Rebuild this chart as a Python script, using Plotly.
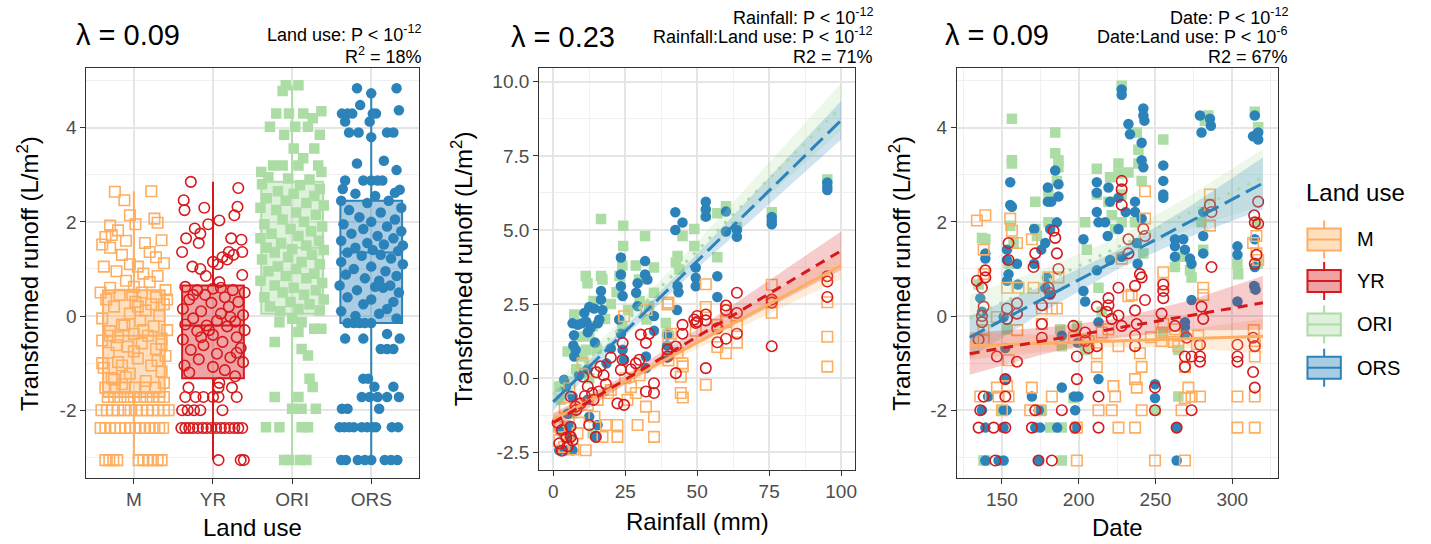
import plotly.graph_objects as go

W, H = 1431, 544

LAND_USES = ["M", "YR", "ORI", "ORS"]
COLORS = {"M": "#FDAE61", "YR": "#D7191C", "ORI": "#ABDDA4", "ORS": "#2B83BA"}
SYMBOLS = {"M": "square-open", "YR": "circle-open", "ORI": "square", "ORS": "circle"}
DASHES = {"M": "solid", "YR": "10px,7px", "ORI": "3px,8px", "ORS": "17px,7px"}

# ---------------- Panel 1: runoff by land use (boxplot + jittered points) -----------
box_q1 = [-1.72, -1.32, 0.05, -0.15]
box_median = [-0.42, -0.20, 1.45, 1.35]
box_q3 = [0.55, 0.65, 2.85, 2.45]
box_lower = [-3.06, -3.06, -3.06, -3.06]
box_upper = [2.65, 2.85, 4.90, 4.75]

# (jitter offset from the category, transformed runoff)
m_box_pts = [
    (-0.36, -3.06), (-0.31, -3.06), (-0.26, -3.06), (-0.21, -3.06), (0.06, -3.06), (0.12, -3.06),
    (0.18, -3.06), (0.24, -3.06), (0.30, -3.06), (0.35, -3.06),
    (-0.42, -2.38), (-0.36, -2.38), (-0.30, -2.38), (-0.24, -2.38), (-0.17, -2.38), (-0.11, -2.38),
    (-0.05, -2.38), (0.02, -2.38), (0.08, -2.38), (0.14, -2.38), (0.20, -2.38), (0.26, -2.38),
    (0.32, -2.38), (0.37, -2.38),
    (-0.41, -2.0), (-0.34, -2.0), (-0.27, -2.0), (-0.20, -2.0), (-0.12, -2.0), (-0.04, -2.0),
    (0.03, -2.0), (0.10, -2.0), (0.17, -2.0), (0.24, -2.0), (0.31, -2.0), (0.38, -2.0), (0.44, -2.0),
    (-0.33, -1.72), (-0.25, -1.72), (-0.17, -1.72), (-0.08, -1.72), (0.0, -1.72), (0.08, -1.72),
    (0.16, -1.72), (0.24, -1.72), (0.32, -1.72), (0.38, -1.72),
    (-0.36, -1.52), (-0.24, -1.52), (-0.12, -1.52), (0.02, -1.52), (0.14, -1.52), (0.27, -1.52),
    (-0.24, 2.64), (0.22, 2.65), (-0.12, 2.46), (-0.05, 2.14), (0.26, 2.07), (0.30, 1.98),
    (-0.30, 1.92), (-0.20, 1.82), (0.02, 1.95), (-0.36, 1.68), (-0.28, 1.72), (-0.10, 1.60),
    (0.35, 1.61), (0.14, 1.55), (-0.40, 1.52), (0.20, 1.36), (-0.30, 1.45), (-0.15, 1.30),
    (0.28, 1.25), (-0.05, 1.10), (0.05, 1.05), (-0.38, 1.05), (0.38, 1.12), (-0.22, 0.95),
    (0.12, 0.90), (0.30, 0.85), (-0.10, 0.75), (0.20, 0.72), (0.0, 0.62), (-0.30, 0.60),
    (0.40, 0.55), (-0.42, 0.50), (0.10, 0.50), (-0.18, 0.45), (0.28, 0.40), (-0.35, 0.35),
    (0.02, 0.30), (0.38, 0.25), (-0.25, 0.20), (0.15, 0.12), (-0.05, 0.05), (0.32, 0.0),
    (-0.40, -0.05), (0.08, -0.10), (-0.15, -0.18), (0.25, -0.22), (0.42, -0.30), (-0.30, -0.32),
    (0.0, -0.38), (0.18, -0.42), (-0.20, -0.45), (0.35, -0.48), (-0.40, -0.52), (0.10, -0.58),
    (-0.08, -0.65), (0.28, -0.70), (-0.32, -0.78), (0.40, -0.85), (0.05, -0.90), (-0.20, -0.98),
    (0.22, -1.05), (-0.38, -1.10), (0.35, -1.18), (-0.05, -1.22), (-0.28, -1.32), (0.15, -1.38),
    (0.38, -1.42), (-0.15, -1.45), (-0.25, -1.35), (0.0, -0.75), (-0.12, -0.20), (0.22, 0.25),
    (-0.02, 0.45), (0.35, -0.60), (-0.40, -1.0), (0.42, 0.35), (-0.15, -1.05),
    (-0.30, -0.42), (0.12, -0.30), (-0.22, -0.62), (0.30, -0.95), (-0.10, -1.30), (0.05, 0.20),
]
yr_box_pts = [
    (0.07, -3.06), (0.35, -3.06), (0.39, -3.06),
    (-0.40, -2.38), (-0.35, -2.38), (-0.30, -2.38), (-0.25, -2.38), (-0.19, -2.38), (-0.13, -2.38),
    (-0.08, -2.38), (-0.02, -2.38), (0.04, -2.38), (0.10, -2.38), (0.15, -2.38), (0.21, -2.38),
    (0.27, -2.38), (0.32, -2.38), (0.37, -2.38),
    (-0.39, -2.0), (-0.32, -2.0), (-0.24, -2.0), (-0.16, -2.0), (0.12, -2.0),
    (-0.35, -1.72), (-0.22, -1.72), (-0.12, -1.72), (0.0, -1.72), (0.07, -1.72), (0.30, -1.72),
    (-0.31, -1.52), (0.07, -1.52), (0.24, -1.52), (0.08, -1.42),
    (-0.28, 2.85), (0.32, 2.72), (-0.37, 2.46), (0.31, 2.32), (-0.36, 2.25), (-0.11, 2.30),
    (0.27, 2.14), (0.08, 2.03), (-0.06, 1.95), (-0.23, 1.86), (-0.16, 1.75), (0.23, 1.65),
    (0.36, 1.62), (-0.34, 1.65), (-0.18, 1.55), (-0.39, 1.36), (0.20, 1.36), (0.26, 1.30),
    (0.37, 1.36), (0.12, 1.25), (0.18, 1.20), (0.0, 1.15), (0.06, 1.10), (-0.26, 1.05),
    (-0.16, 1.0), (0.37, 0.87), (-0.09, 0.85), (0.08, 0.72),
    (-0.35, 0.62), (-0.20, 0.55), (0.0, 0.58), (0.25, 0.55), (0.40, 0.50), (-0.10, 0.45),
    (0.15, 0.40), (-0.30, 0.35), (0.32, 0.30), (-0.02, 0.28), (0.20, 0.20), (-0.38, 0.15),
    (-0.15, 0.10), (0.10, 0.05), (0.38, 0.02), (-0.25, -0.05), (0.05, -0.10), (0.28, -0.12),
    (-0.35, -0.18), (-0.08, -0.20), (0.18, -0.22), (0.40, -0.30), (-0.20, -0.32), (0.0, -0.40),
    (0.30, -0.45), (-0.38, -0.50), (0.12, -0.55), (-0.12, -0.62), (0.35, -0.68), (-0.28, -0.72),
    (0.05, -0.80), (0.22, -0.88), (-0.18, -0.92), (0.38, -0.98), (-0.36, -1.05), (0.0, -1.08),
    (0.15, -1.15), (-0.30, -1.20), (0.28, -1.28),
    (-0.25, 0.45), (0.22, -0.02), (-0.05, -0.30), (0.30, -0.78), (-0.15, -0.45), (0.10, 0.60),
]
ori_box_pts = [
    (-0.08, 4.90), (0.08, 4.90), (-0.12, 4.78), (-0.20, 4.30), (-0.04, 4.30), (0.14, 4.30),
    (0.37, 4.35), (0.26, 4.20), (-0.28, 4.02), (0.04, 4.02), (0.20, 4.02), (-0.10, 3.85),
    (0.35, 3.85), (0.02, 3.56), (0.28, 3.56), (0.14, 3.35), (-0.24, 3.20), (-0.12, 3.20),
    (0.08, 3.20), (0.33, 3.20), (-0.39, 3.06), (0.37, 3.06),
    (-0.30, 2.95), (-0.05, 2.92), (0.22, 2.90), (-0.38, 2.80), (0.10, 2.78), (0.35, 2.70),
    (-0.18, 2.65), (0.02, 2.60), (0.28, 2.55), (-0.32, 2.50), (-0.08, 2.45), (0.18, 2.40),
    (0.40, 2.35), (-0.40, 2.30), (-0.20, 2.25), (0.05, 2.20), (0.30, 2.15), (-0.12, 2.05),
    (0.15, 2.0), (-0.35, 1.95), (0.38, 1.90), (-0.02, 1.85), (0.24, 1.80), (-0.26, 1.75),
    (0.08, 1.70), (-0.40, 1.65), (0.34, 1.60), (-0.14, 1.55), (0.18, 1.50), (-0.32, 1.45),
    (0.0, 1.42), (0.40, 1.40), (-0.22, 1.35), (0.25, 1.30), (-0.05, 1.25), (-0.38, 1.20),
    (0.12, 1.15), (0.35, 1.10), (-0.18, 1.05), (0.05, 1.0), (-0.30, 0.95), (0.28, 0.90),
    (-0.08, 0.85), (0.18, 0.80), (-0.40, 0.75), (0.38, 0.70), (-0.22, 0.65), (0.02, 0.60),
    (0.30, 0.55), (-0.12, 0.50), (0.15, 0.45), (-0.35, 0.40), (0.40, 0.35), (-0.02, 0.30),
    (0.22, 0.25), (-0.28, 0.20), (0.08, 0.15), (-0.15, 0.10), (0.35, 0.12),
    (0.0, -0.06), (-0.16, -0.13), (0.12, -0.13), (0.28, -0.27), (0.37, -0.27), (0.08, -0.34),
    (-0.22, -0.55), (0.12, -0.70), (0.20, -0.84), (0.22, -1.33), (0.26, -1.51), (-0.22, -1.72),
    (0.08, -1.72), (0.0, -1.97), (0.12, -1.97), (0.30, -1.97), (-0.33, -2.36), (-0.16, -2.36),
    (0.12, -2.36), (0.20, -2.36), (-0.10, -3.06), (-0.04, -3.06), (0.10, -3.06), (0.18, -3.06),
]
ors_box_pts = [
    (-0.18, 4.84), (0.32, 4.84), (0.0, 4.73), (-0.14, 4.48), (0.35, 4.37), (-0.37, 4.30),
    (-0.30, 4.30), (-0.24, 4.30), (0.02, 4.30), (0.06, 4.30), (-0.33, 4.13), (-0.02, 4.13),
    (-0.28, 3.90), (-0.16, 3.90), (0.20, 3.90), (0.28, 3.90), (0.0, 3.80), (-0.18, 3.24),
    (0.16, 3.30), (0.32, 3.10), (-0.33, 2.88), (-0.10, 2.88), (0.0, 2.88), (0.08, 2.88), (0.14, 2.88),
    (-0.36, 2.70), (0.36, 2.68), (0.30, 2.62), (-0.20, 2.60), (0.05, 2.55), (-0.38, 2.45),
    (0.22, 2.45), (-0.05, 2.40), (0.38, 2.30), (-0.28, 2.25), (0.12, 2.20), (-0.15, 2.10),
    (0.30, 2.05), (0.0, 2.0), (-0.35, 1.95), (0.20, 1.90), (-0.10, 1.85), (0.38, 1.80),
    (-0.25, 1.75), (0.08, 1.70), (0.28, 1.65), (-0.38, 1.60), (-0.05, 1.55), (0.16, 1.52),
    (0.40, 1.50), (-0.20, 1.45), (0.02, 1.40), (0.34, 1.38), (-0.30, 1.35), (0.12, 1.30),
    (-0.12, 1.28), (0.25, 1.22), (-0.38, 1.15), (0.40, 1.10), (0.0, 1.05), (-0.22, 1.0),
    (0.18, 0.95), (-0.32, 0.88), (0.32, 0.85), (-0.08, 0.80), (0.10, 0.75), (-0.40, 0.65),
    (0.24, 0.65), (0.05, 0.62), (0.15, 0.60), (-0.18, 0.55), (0.35, 0.50), (-0.30, 0.40),
    (0.0, 0.35), (0.28, 0.30), (-0.10, 0.25), (0.20, 0.15), (-0.38, 0.10), (0.10, 0.05),
    (-0.20, 0.0), (0.32, -0.05),
    (-0.30, -0.15), (-0.22, -0.15), (-0.15, -0.15), (-0.08, -0.15), (0.0, -0.15), (-0.33, -0.48),
    (-0.10, -0.48), (0.36, -0.48), (0.20, -0.38), (0.12, -0.70), (0.20, -0.70), (0.28, -0.70),
    (-0.10, -1.33), (-0.04, -1.33), (0.04, -1.50), (0.28, -1.50), (-0.12, -1.72), (-0.02, -1.72),
    (0.08, -1.72), (0.20, -1.72), (0.35, -1.72), (-0.37, -1.97), (-0.30, -1.97), (0.10, -1.97),
    (-0.40, -2.36), (-0.34, -2.36), (-0.28, -2.36), (-0.22, -2.36), (-0.12, -2.36), (-0.05, -2.36),
    (0.02, -2.36), (0.06, -2.36), (0.26, -2.36), (0.34, -2.36),
    (-0.38, -3.06), (-0.32, -3.06), (-0.17, -3.06), (-0.08, -3.06), (0.0, -3.06), (0.17, -3.06),
    (0.25, -3.06), (0.33, -3.06),
]

# ---------------- Panel 2: rainfall (mm) vs transformed runoff (lambda = 0.23) ----------
m_rain_pts = [
    (39.7, 2.49), (32.4, 2.3), (24.6, 2.09), (44.3, -0.5), (35, -1.3), (35, -1.98), (29.3, -1.58),
    (22.3, -1.58), (22.3, -1.98), (18.3, -1.58), (17.1, -1.98), (11.3, -2.43), (5.6, -0.34),
    (10.2, 0.5), (44.9, 0.5), (44.3, 0.05), (25.8, -0.73), (28.7, -0.5), (32.2, -0.96), (2.1, -1.64),
    (2.1, -2.09), (3.8, -2.32), (8.4, -1.86), (15.4, -0.73), (14.3, -1.3), (20, -0.4), (40.9, 1.5),
    (43.2, 0.85), (95.2, 2.56), (95.2, 1.4), (95.2, 0.39), (75.9, 3.15), (75.9, 2.56), (75.9, 2.21),
    (63.8, 1.76), (63.8, 1.2), (60, 0.84), (60, 1.9), (60, 2.3), (57, 1.05), (57, 1.8), (53, 3.17),
    (53, 2.4), (53, -0.22), (49.5, 1.6), (45, 0.4), (45, -0.65), (40, 2.55), (40, 1.4), (40, 0.6),
    (7, -2.4), (5, -2.0), (9, -1.5), (12, -0.9), (4, -1.0), (30, 0.1), (27, -0.3), (19, -0.5),
    (14, 0.2), (25, 0.0),
]
yr_rain_pts = [
    (49, 1.98), (49.5, 1.86), (44.9, 1.8), (44.9, 1.5), (42.6, 1.07), (42.6, 0.17), (39.7, 0.96),
    (39.7, 0.73), (33.3, 1.5), (30.4, 1.47), (32.2, 1.19), (29.9, 0.62), (28.7, 0.5), (35, -0.17),
    (35, -0.5), (32.2, -0.45), (24.1, 1.19), (24.1, 0.62), (23.5, 0.28), (22.3, -0.85), (24.6, -0.9),
    (16.4, 0.4), (17.5, 0.1), (18.3, -0.2), (15.8, -0.45), (10.4, 0.05), (12, -0.28), (13.5, -0.5),
    (15, 0.2), (14, -0.73), (11, -0.6), (6.1, -0.62), (7.8, -0.96), (9.5, -0.85), (8, -1.07),
    (1.5, -1.5), (3, -1.75), (4.5, -2.0), (6, -1.64), (6.7, -2.1), (12.5, -1.58), (14.8, -1.98),
    (6.1, -1.98), (2.1, -2.2), (95.2, 3.44), (95.2, 3.26), (95.2, 2.74), (75.9, 2.65), (75.9, 2.55),
    (75.9, 1.08), (63.8, 2.88), (63.8, 2.2), (63.8, 1.5), (60, 2.45), (60, 2.3), (60, 1.33),
    (57, 1.68), (57, 1.21), (53, 2.15), (53, 1.95), (53, 0.34), (50, 2.1), (50, 1.9), (20, 0.7),
    (27, 0.3), (3, -2.45), (5, -2.3),
]
ori_rain_pts = [
    (16.6, 5.37), (24.3, 5.14), (24.3, 4.46), (24, 3.8), (23, 3.45), (31.9, 4.8), (28.7, 3.8),
    (29.8, 3.33), (35, 3.73), (35, 2.88), (11.3, 3.45), (11.9, 3.2), (16.6, 3.45), (17.1, 3.33),
    (7.3, 2.15), (43.2, 4.12), (43.8, 3.67), (44.9, 4.8), (49, 5.03), (49, 4.46), (39.1, 1.86),
    (39.7, 1.5), (32.4, 1.98), (33.3, 2.43), (24, 1.75), (13.7, 1.75), (12.5, 1.41), (11.3, 0.96),
    (10.2, 0.73), (2.7, -0.73), (2.1, -0.28), (12.5, 0.0), (13.7, -1.86), (6.7, -1.19), (53, 5.5),
    (57, 5.56), (57, 4.08), (60, 5.8), (63.8, 5.1), (75.9, 5.6), (95.2, 6.7), (42.6, 3.9), (20, 2.5),
    (22, 2.9), (18, 2.0), (9, 1.4), (15, 1.0), (26, 2.3), (30, 2.6), (14, 2.6), (5, 0.9), (4, -1.6),
    (8, 0.3),
]
ors_rain_pts = [
    (42.4, 5.6), (42.4, 5.0), (44.9, 5.25), (43.2, 3.1), (43.5, 2.9), (43, 2.3), (31.9, 3.95),
    (31.9, 3.5), (32.7, 3.33), (29.3, 3.2), (28.8, 2.88), (29.3, 2.43), (23.5, 4.07), (23.5, 3.5),
    (23.5, 3.1), (24.1, 2.77), (22.9, 1.98), (23.5, 1.5), (24.1, 0.96), (24.6, 0.62), (16.6, 2.94),
    (16.6, 2.65), (17.1, 2.3), (16, 1.98), (10.8, 2.2), (12.5, 2.4), (14.2, 2.35), (15.5, 1.85),
    (13, 1.7), (11.5, 1.9), (12, 1.55), (14.5, 1.2), (6.7, 1.85), (8.5, 1.8), (10, 1.85), (7.2, 1.45),
    (7, 1.1), (7.3, 0.73), (7.8, 0.96), (3.8, -0.05), (4.4, -0.28), (6.7, -0.62), (11.9, -0.73),
    (12.5, -1.3), (6.1, -1.98), (6.1, -1.64), (2.1, -2.43), (4.4, -2.43), (6.7, -2.43), (15.4, -1.58),
    (14.8, -1.98), (32.2, 0.73), (32.2, 0.34), (49.5, 3.39), (49.5, 3.1), (49.5, 3.73), (53, 5.95),
    (53, 5.7), (53, 5.45), (57, 3.44), (57, 2.74), (60, 5.62), (60, 4.95), (63.8, 5.0), (63.8, 4.77),
    (75.9, 5.44), (75.9, 5.3), (75.9, 5.19), (95.2, 6.6), (95.2, 6.45), (95.2, 6.35), (39.6, 1.46),
    (39.6, 0.7), (39.6, 1.1), (35, 2.1), (35, 1.6), (20, 1.0), (18.5, 0.5), (12, 0.3), (9, 0.1),
    (5, -1.2), (2.5, -1.8),
]

# fitted lines and confidence half-widths at these rainfall values
rain_grid = [0, 25, 50, 75, 100]
rain_fit = {
    "M": [-1.40, -0.10, 1.20, 2.50, 3.80],
    "YR": [-1.50, -0.05, 1.40, 2.85, 4.30],
    "ORI": [-0.55, 1.87, 4.30, 6.72, 9.15],
    "ORS": [-0.80, 1.57, 3.95, 6.32, 8.70],
}
rain_halfwidth = {
    "M": [0.25, 0.12, 0.20, 0.32, 0.45],
    "YR": [0.30, 0.15, 0.25, 0.45, 0.65],
    "ORI": [0.35, 0.20, 0.30, 0.55, 0.80],
    "ORS": [0.30, 0.15, 0.25, 0.45, 0.65],
}

# ---------------- Panel 3: sampling date vs transformed runoff (lambda = 0.09) ----------
m_date_pts = [
    (133.7, 2.03), (139.2, 2.14), (138.1, 1.41), (138.1, 0.89), (138.1, -0.50), (135.9, -1.71),
    (146.7, -0.02), (147.8, -1.71), (146.7, -1.52), (150.0, -2.0), (155.4, 2.07), (156.5, 1.81),
    (153.3, 0.60), (154.3, -0.94), (153.3, -1.49), (154.3, -1.71), (159.8, 1.55), (160.8, 0.60),
    (169.5, 1.63), (170.6, 0.60), (169.5, -1.52), (168.4, -2.0), (174.9, -2.0), (176.0, 0.16),
    (176.0, -0.17), (182.5, 0.16), (185.8, 0.16), (180.3, 0.82), (182.5, -1.71), (186.8, 0.82),
    (198.8, -3.07), (198.8, -2.37), (204.2, -0.50), (206.4, -0.53), (211.8, -0.79), (211.8, -1.08),
    (212.9, -2.0), (219.4, -0.28), (221.5, -2.0), (222.6, -1.49), (223.7, -1.71), (225.9, -2.37),
    (225.9, -0.64), (228.0, 1.22), (232.4, 0.42), (234.5, 0.45), (236.7, -2.37), (236.7, -1.34),
    (237.8, -1.52), (239.9, -0.79), (241.0, -1.08), (241.0, -2.0), (243.2, 2.07), (243.2, 2.65),
    (249.7, -3.07), (255.1, 0.93), (255.1, 0.67), (254.0, -0.35), (254.0, -0.53), (255.1, -0.17),
    (262.7, -0.28), (264.9, -0.64), (267.0, -2.0), (269.2, -3.07), (269.2, -1.08), (271.4, -1.52),
    (273.5, -1.71), (269.2, -1.74), (279.0, -1.71), (281.1, 0.45), (281.1, 0.60), (285.5, 2.58),
    (285.5, 2.36), (285.5, 1.92), (277.9, -0.42), (303.4, -1.71), (303.4, -2.37), (314.7, -2.37),
    (314.7, -1.71), (313.6, 1.55), (315.8, 1.33), (314.7, -0.86), (314.7, -0.53), (315.8, 1.70),
    (316.9, 1.19), (138.0, -0.30), (160.0, -0.30), (197.0, -0.45), (215.0, -0.35), (247.0, -0.45),
    (262.0, -0.55), (277.0, -0.60), (314.0, -0.30),
]
yr_date_pts = [
    (133.7, 0.75), (139.2, 0.82), (139.2, 0.97), (138.1, 0.20), (137.0, -0.13), (134.8, -0.50),
    (138.1, -1.71), (135.9, -2.0), (134.8, -2.37), (145.7, -3.07), (144.6, -2.37), (137.0, 0.60),
    (137.0, 0.0), (154.3, 1.55), (154.3, 1.19), (153.3, 0.16), (153.3, -0.06), (146.7, -0.86),
    (152.2, -1.71), (152.2, -2.37), (152.2, -1.34), (159.8, 0.27), (159.8, 0.05), (159.8, -0.97),
    (171.7, 1.33), (170.6, 1.04), (171.7, -2.0), (169.5, -2.37), (173.8, -3.07), (176.0, 0.23),
    (176.0, -0.17), (176.0, -0.46), (183.6, 1.81), (184.7, 1.66), (185.8, 1.33), (186.8, 1.0),
    (180.3, 0.60), (181.4, 0.49), (182.5, -3.07), (189.0, -2.0), (196.6, -0.21), (198.8, -0.86),
    (198.8, -1.34), (197.7, -2.37), (204.2, -0.35), (204.2, -0.53), (206.4, -0.68), (211.8, 0.20),
    (212.9, -1.71), (212.9, -2.37), (211.8, -0.64), (219.4, 0.38), (219.4, 0.23), (218.3, 0.09),
    (221.5, -0.06), (225.9, 0.60), (228.0, 2.87), (228.0, 2.69), (228.0, 2.36), (225.9, 0.01),
    (228.0, -0.21), (232.4, 1.63), (232.4, 1.33), (236.7, 0.64), (236.7, 0.12), (237.8, -0.17),
    (236.7, -0.42), (236.7, -0.64), (239.9, 0.89), (241.0, 0.82), (242.1, 1.85), (243.2, 1.70),
    (243.2, 0.34), (249.7, -1.52), (249.7, -2.0), (255.1, 0.67), (255.1, 0.53), (254.0, 0.05),
    (255.1, 0.38), (262.7, -0.21), (263.8, -2.37), (269.2, -0.86), (269.2, -1.08), (270.3, -0.46),
    (273.5, -0.86), (273.5, -2.0), (279.0, -0.86), (279.0, -0.61), (279.0, -0.97), (280.0, 0.20),
    (281.1, -0.06), (285.5, 2.36), (286.5, 2.21), (286.5, 1.04), (303.4, -0.61), (303.4, -0.86),
    (303.4, -0.97), (314.3, 2.14), (314.7, 1.99), (316.9, 2.43), (316.9, 1.96), (313.6, -0.46),
    (314.7, -0.64), (313.6, -1.19), (314.7, -1.52), (315.8, 1.30), (314.7, 1.11),
]
ori_date_pts = [
    (137.0, 1.66), (139.2, 1.63), (134.8, 0.67), (139.2, -3.07), (156.5, 4.19), (156.5, 3.31),
    (156.5, 3.24), (155.4, 1.92), (157.6, 1.55), (154.3, 1.11), (153.3, -0.28), (171.7, 2.43),
    (171.7, 1.85), (172.8, 1.70), (180.3, 2.58), (180.3, 1.99), (184.7, 3.90), (184.7, 3.46),
    (186.8, 3.31), (186.8, 3.16), (185.8, 2.87), (189.0, -3.07), (181.4, -2.37), (189.0, -0.64),
    (187.9, -0.28), (198.8, -0.21), (196.6, -1.74), (204.2, 1.99), (205.3, 1.41), (204.2, -0.72),
    (211.8, 3.13), (211.8, 2.58), (212.9, 0.60), (215.0, 0.09), (219.4, 2.43), (221.5, 2.14),
    (223.7, 1.85), (220.4, 2.95), (228.0, 4.89), (225.9, 3.24), (225.9, 3.02), (228.0, 2.58),
    (228.0, 1.99), (232.4, 3.05), (234.5, 3.90), (237.8, 3.90), (238.9, 3.53), (238.9, 3.24),
    (241.0, 2.87), (242.1, 1.33), (236.7, 1.99), (255.1, 3.75), (255.1, -0.35), (262.7, 1.04),
    (264.9, -0.72), (264.9, -1.71), (268.1, 1.26), (272.5, 0.97), (273.5, 0.82), (282.2, 4.15),
    (284.4, 4.26), (280.0, 1.99), (281.1, 1.41), (303.4, 1.11), (303.9, 0.89), (314.7, 4.34),
    (316.9, 4.01), (315.8, 1.99), (316.5, 1.11), (314.7, 0.60), (150.0, -2.0), (176.0, -2.0),
    (189.0, -2.37), (250.0, -2.0), (138.0, -3.07),
]
ors_date_pts = [
    (135.9, 0.38), (137.0, 0.09), (139.2, 1.33), (139.2, 1.22), (137.0, -2.0), (139.2, -2.37),
    (139.2, -3.07), (155.4, 2.84), (155.4, 2.36), (156.5, 2.32), (153.3, 1.41), (153.3, 1.19),
    (154.3, 0.89), (153.3, 0.75), (151.1, -0.02), (152.2, -0.68), (152.6, -1.34), (151.1, -2.0),
    (151.1, -2.37), (147.8, -3.07), (151.1, -3.07), (159.8, 1.11), (160.4, 0.67), (171.0, 1.85),
    (171.0, 1.11), (169.5, -1.71), (171.7, -2.37), (173.8, -3.07), (179.9, 2.73), (179.9, 2.43),
    (181.4, 1.85), (178.2, 1.55), (175.6, 1.41), (179.3, 0.82), (178.2, 0.60), (181.4, 0.45),
    (184.7, 3.09), (186.8, 2.80), (186.8, 2.54), (185.8, 1.99), (182.1, 2.43), (174.9, -2.37),
    (189.0, -0.42), (189.0, -1.52), (197.7, -2.0), (197.7, -2.37), (199.4, -0.57), (203.1, 1.63),
    (203.1, 0.53), (204.2, 0.31), (199.8, -1.71), (211.8, 2.84), (211.8, 2.62), (211.8, 2.21),
    (212.9, 1.99), (211.8, 0.97), (212.9, -0.13), (212.9, -1.34), (219.4, 2.73), (220.4, 2.43),
    (217.2, 1.99), (218.9, 1.70), (220.4, 1.19), (225.9, 2.51), (225.9, 1.85), (228.0, 4.81),
    (228.0, 4.70), (228.0, 1.26), (230.6, 2.21), (232.4, 4.08), (233.4, 3.86), (236.7, 2.43),
    (236.7, 2.21), (237.8, 1.55), (238.4, 1.11), (241.0, 3.68), (241.0, 3.31), (242.1, 3.16),
    (242.1, 4.41), (242.1, 4.26), (242.8, 4.15), (241.0, 2.07), (249.7, -1.45), (249.7, -1.74),
    (255.1, 3.20), (255.1, 2.87), (255.1, 2.58), (255.1, 2.51), (262.7, 1.63), (262.7, 1.48),
    (262.7, 1.26), (263.8, -2.37), (263.8, -3.07), (268.1, 1.63), (269.2, 1.41), (269.2, -0.13),
    (269.2, -0.24), (269.2, -0.39), (272.5, 1.22), (273.5, 1.11), (273.5, 0.34), (279.0, 4.26),
    (280.0, 3.90), (281.1, 1.70), (281.1, 1.33), (285.5, 4.19), (286.1, 4.04), (281.1, 2.21),
    (303.4, 1.48), (303.4, 1.30), (303.4, 0.31), (314.7, 4.26), (313.6, 3.82), (316.9, 3.90),
    (316.9, 3.75), (314.7, 1.63), (314.7, 1.04), (314.3, 0.64), (315.2, 0.56), (141.0, -1.71),
    (153.0, -2.0), (174.0, -2.0), (186.0, -2.37), (197.0, -1.71), (150.5, -2.37),
]

date_grid = [129, 177, 225, 272, 320]
date_fit = {
    "M": [-0.63, -0.58, -0.53, -0.48, -0.43],
    "YR": [-0.80, -0.53, -0.26, 0.01, 0.28],
    "ORI": [-0.05, 0.70, 1.45, 2.20, 2.95],
    "ORS": [-0.45, 0.37, 1.19, 2.00, 2.82],
}
date_halfwidth = {
    "M": [0.30, 0.18, 0.12, 0.20, 0.37],
    "YR": [0.45, 0.28, 0.20, 0.32, 0.57],
    "ORI": [0.50, 0.30, 0.22, 0.35, 0.60],
    "ORS": [0.45, 0.28, 0.20, 0.32, 0.55],
}

box_pts = {"M": m_box_pts, "YR": yr_box_pts, "ORI": ori_box_pts, "ORS": ors_box_pts}
rain_pts = {"M": m_rain_pts, "YR": yr_rain_pts, "ORI": ori_rain_pts, "ORS": ors_rain_pts}
date_pts = {"M": m_date_pts, "YR": yr_date_pts, "ORI": ori_date_pts, "ORS": ors_date_pts}

# ---------------- helpers ----------------
FONT = "Liberation Sans, Arial, Helvetica, sans-serif"
TICK_GREY = "#4D4D4D"
FRAME = "#333333"
GRID_MAJOR = "#E5E5E5"
GRID_MINOR = "#F0F0F0"


def rgba(hex_color, alpha):
    h = hex_color.lstrip("#")
    r, g, b = int(h[0:2], 16), int(h[2:4], 16), int(h[4:6], 16)
    return f"rgba({r},{g},{b},{alpha})"


def px_x(v):
    return v / W


def px_y(v):
    return 1 - v / H


def marker_for(lu):
    filled = lu in ("ORI", "ORS")
    return dict(
        symbol=SYMBOLS[lu], size=10.5, color=COLORS[lu],
        line=dict(color=COLORS[lu], width=0 if filled else 1.6),
    )


fig = go.Figure()

# Panel 1 boxes, drawn beneath the jittered points
for i, lu in enumerate(LAND_USES):
    fig.add_trace(go.Box(
        x=[i + 1], q1=[box_q1[i]], median=[box_median[i]], q3=[box_q3[i]],
        lowerfence=[box_lower[i]], upperfence=[box_upper[i]],
        width=0.78, whiskerwidth=0, boxpoints=False,
        fillcolor=rgba(COLORS[lu], 0.4), line=dict(color=COLORS[lu], width=2),
        xaxis="x", yaxis="y", showlegend=False, hoverinfo="skip",
    ))
for i, lu in enumerate(LAND_USES):
    pts = box_pts[lu]
    fig.add_trace(go.Scatter(
        x=[i + 1 + p[0] for p in pts], y=[p[1] for p in pts], mode="markers",
        marker=marker_for(lu), xaxis="x", yaxis="y", showlegend=False, hoverinfo="skip",
    ))

DRAW_ORDER = ["ORI", "ORS", "M", "YR"]


def add_panel(pts_by_lu, grid, fits, halfwidths, xa, ya):
    for lu in DRAW_ORDER:
        pts = pts_by_lu[lu]
        fig.add_trace(go.Scatter(
            x=[p[0] for p in pts], y=[p[1] for p in pts], mode="markers",
            marker=marker_for(lu), xaxis=xa, yaxis=ya, showlegend=False, hoverinfo="skip",
        ))
    for lu in DRAW_ORDER:
        upper = [f + h for f, h in zip(fits[lu], halfwidths[lu])]
        lower = [f - h for f, h in zip(fits[lu], halfwidths[lu])]
        fig.add_trace(go.Scatter(
            x=grid + grid[::-1], y=upper + lower[::-1], mode="lines", fill="toself",
            fillcolor=rgba(COLORS[lu], 0.22), line=dict(width=0), xaxis=xa, yaxis=ya,
            showlegend=False, hoverinfo="skip",
        ))
    for lu in DRAW_ORDER:
        fig.add_trace(go.Scatter(
            x=grid, y=fits[lu], mode="lines",
            line=dict(color=COLORS[lu], width=3, dash=DASHES[lu]),
            xaxis=xa, yaxis=ya, showlegend=False, hoverinfo="skip",
        ))


add_panel(rain_pts, rain_grid, rain_fit, rain_halfwidth, "x2", "y2")
add_panel(date_pts, date_grid, date_fit, date_halfwidth, "x3", "y3")

# ---------------- legend (drawn on its own pixel-scaled axes) ----------------
LEG_X0, LEG_X1, LEG_Y0, LEG_Y1 = 1290, 1431, 170, 400
leg_rows = [239.4, 281.0, 324.4, 367.8]
key_cx, key_half_w, key_half_h, whisker = 1326, 16.7, 11, 19
shapes = []
for lu, cy in zip(LAND_USES, leg_rows):
    c = COLORS[lu]
    shapes.append(dict(type="line", xref="x4", yref="y4", x0=key_cx, x1=key_cx,
                       y0=cy - whisker, y1=cy + whisker, line=dict(color=c, width=2)))
    shapes.append(dict(type="rect", xref="x4", yref="y4",
                       x0=key_cx - key_half_w, x1=key_cx + key_half_w,
                       y0=cy - key_half_h, y1=cy + key_half_h,
                       fillcolor="white", line=dict(width=0)))
    shapes.append(dict(type="rect", xref="x4", yref="y4",
                       x0=key_cx - key_half_w, x1=key_cx + key_half_w,
                       y0=cy - key_half_h, y1=cy + key_half_h,
                       fillcolor=rgba(c, 0.4), line=dict(color=c, width=2)))
    shapes.append(dict(type="line", xref="x4", yref="y4",
                       x0=key_cx - key_half_w, x1=key_cx + key_half_w, y0=cy, y1=cy,
                       line=dict(color=c, width=2)))
for lu, cy in zip(LAND_USES, leg_rows):
    fig.add_trace(go.Scatter(
        x=[key_cx], y=[cy], mode="markers", marker=marker_for(lu),
        xaxis="x4", yaxis="y4", showlegend=False, hoverinfo="skip",
    ))

# ---------------- text ----------------
annotations = []


def ann(text, x, y, size, xanchor="left", yanchor="middle", angle=0):
    annotations.append(dict(
        text=text, x=px_x(x), y=px_y(y), xref="paper", yref="paper", showarrow=False,
        xanchor=xanchor, yanchor=yanchor, textangle=angle,
        font=dict(family=FONT, size=size, color="black"),
    ))


ann("λ = 0.09", 74, 35, 29)
ann("Land use: P &lt; 10<sup>-12</sup>", 425, 33, 18, xanchor="right")
ann("R<sup>2</sup> = 18%", 425, 56, 18, xanchor="right")

ann("λ = 0.23", 510, 37, 29)
ann("Rainfall: P &lt; 10<sup>-12</sup>", 876, 16, 18, xanchor="right")
ann("Rainfall:Land use: P &lt; 10<sup>-12</sup>", 876, 36, 18, xanchor="right")
ann("R2 = 71%", 876, 57, 18, xanchor="right")

ann("λ = 0.09", 944, 35, 29)
ann("Date: P &lt; 10<sup>-12</sup>", 1292, 16, 18, xanchor="right")
ann("Date:Land use: P &lt; 10<sup>-6</sup>", 1292, 36, 18, xanchor="right")
ann("R2 = 67%", 1292, 57, 18, xanchor="right")

YTITLE = "Transformed runoff (L/m<sup>2</sup>)"
ann(YTITLE, 28, 273, 24, xanchor="center", angle=-90)
ann(YTITLE, 463, 269, 24, xanchor="center", angle=-90)
ann(YTITLE, 901, 273, 24, xanchor="center", angle=-90)
ann("Land use", 253, 527, 24, xanchor="center")
ann("Rainfall (mm)", 698, 521, 24, xanchor="center")
ann("Date", 1119, 527, 24, xanchor="center")

ann("Land use", 1306, 193, 24)
for lu, cy in zip(LAND_USES, leg_rows):
    ann(lu, 1357, cy, 20)

# ---------------- axes ----------------
def frame_axis(**kw):
    base = dict(
        showline=True, mirror=True, linecolor=FRAME, linewidth=1.2,
        ticks="outside", ticklen=5, tickwidth=1.2, tickcolor=FRAME,
        tickfont=dict(family=FONT, size=19, color=TICK_GREY),
        showgrid=True, gridcolor=GRID_MAJOR, gridwidth=1.6, zeroline=False,
    )
    base.update(kw)
    return base


def minor(vals):
    return dict(tickmode="array", tickvals=vals, showgrid=True,
                gridcolor=GRID_MINOR, gridwidth=1, ticks="")


P1 = (86.5, 419.3, 68.4, 477.5)
P2 = (540.0, 856.0, 68.4, 469.5)
P3 = (958.3, 1279.3, 68.4, 477.5)

runoff_ticks = [-2, 0, 2, 4]
runoff_labels = ["-2", "0", "2", "4"]
runoff_minor = [-3, -1, 1, 3, 5]

fig.update_layout(
    width=W, height=H, margin=dict(l=0, r=0, t=0, b=0),
    paper_bgcolor="white", plot_bgcolor="white", showlegend=False,
    font=dict(family=FONT),
    xaxis=frame_axis(domain=[px_x(P1[0]), px_x(P1[1])], anchor="y", range=[0.4, 4.6],
                     tickmode="array", tickvals=[1, 2, 3, 4], ticktext=LAND_USES),
    yaxis=frame_axis(domain=[px_y(P1[3]), px_y(P1[2])], anchor="x", range=[-3.43, 5.26],
                     tickmode="array", tickvals=runoff_ticks, ticktext=runoff_labels,
                     minor=minor(runoff_minor)),
    xaxis2=frame_axis(domain=[px_x(P2[0]), px_x(P2[1])], anchor="y2", range=[-4.86, 104.75],
                      tickmode="array", tickvals=[0, 25, 50, 75, 100],
                      ticktext=["0", "25", "50", "75", "100"],
                      minor=minor([12.5, 37.5, 62.5, 87.5])),
    yaxis2=frame_axis(domain=[px_y(P2[3]), px_y(P2[2])], anchor="x2", range=[-3.08, 10.45],
                      tickmode="array", tickvals=[-2.5, 0, 2.5, 5, 7.5, 10],
                      ticktext=["-2.5", "0.0", "2.5", "5.0", "7.5", "10.0"],
                      minor=minor([-1.25, 1.25, 3.75, 6.25, 8.75])),
    xaxis3=frame_axis(domain=[px_x(P3[0]), px_x(P3[1])], anchor="y3", range=[120.7, 329.5],
                      tickmode="array", tickvals=[150, 200, 250, 300],
                      ticktext=["150", "200", "250", "300"],
                      minor=minor([125, 175, 225, 275, 325])),
    yaxis3=frame_axis(domain=[px_y(P3[3]), px_y(P3[2])], anchor="x3", range=[-3.43, 5.26],
                      tickmode="array", tickvals=runoff_ticks, ticktext=runoff_labels,
                      minor=minor(runoff_minor)),
    xaxis4=dict(domain=[px_x(LEG_X0), px_x(LEG_X1)], anchor="y4", range=[LEG_X0, LEG_X1],
                visible=False, fixedrange=True),
    yaxis4=dict(domain=[px_y(LEG_Y1), px_y(LEG_Y0)], anchor="x4", range=[LEG_Y1, LEG_Y0],
                visible=False, fixedrange=True),
    shapes=shapes,
    annotations=annotations,
)

fig.write_html("out.html")
